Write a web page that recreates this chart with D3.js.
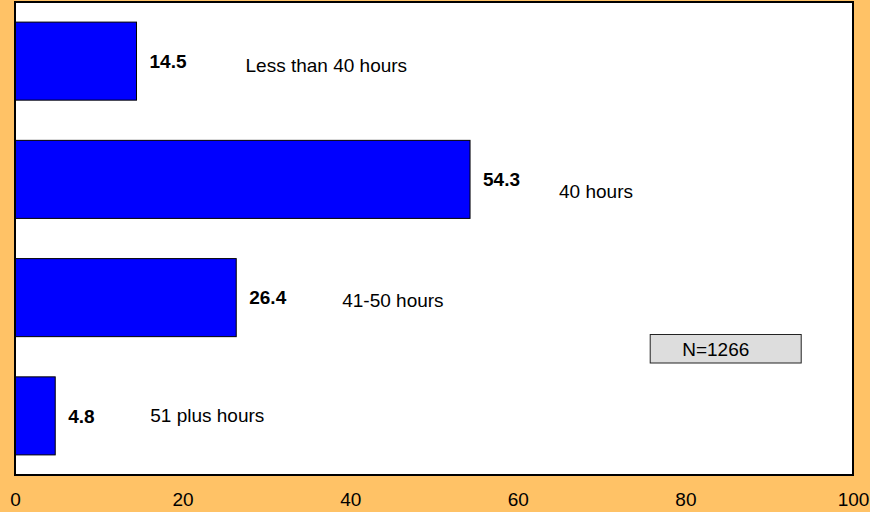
<!DOCTYPE html>
<html>
<head>
<meta charset="utf-8">
<script src="https://cdn.jsdelivr.net/npm/d3@7"></script>
<style>
  html, body { margin: 0; padding: 0; background: #FFC266; }
  svg { display: block; }
  text { font-family: "Liberation Sans", Arial, sans-serif; fill: #000; }
</style>
</head>
<body>
<svg id="chart" width="870" height="512"></svg>
<script>
// Weekly working hours, percentage of respondents
const categories = ["Less than 40 hours", "40 hours", "41-50 hours", "51 plus hours"];
const percents = [14.5, 54.3, 26.4, 4.8];
const tickValues = [0, 20, 40, 60, 80, 100];
const sampleNote = "N=1266";

const W = 870, H = 512;
const plot = { left: 15, right: 853, top: 2, bottom: 475 };

// Label nudges for the category names, relative to each bar's end and centre
const nameOffset = [[109, 11], [89, 19], [106, 9], [95, 6]];

const svg = d3.select("#chart");

svg.append("rect")
  .attr("width", W).attr("height", H)
  .attr("fill", "#FFC266");

const x = d3.scaleLinear().domain([0, 100]).range([plot.left, plot.right]);
const y = d3.scaleBand()
  .domain(categories)
  .range([plot.top, plot.bottom])
  .paddingInner(0.34)
  .paddingOuter(0.17);

// plot area
svg.append("rect")
  .attr("x", plot.left).attr("y", plot.top)
  .attr("width", plot.right - plot.left)
  .attr("height", plot.bottom - plot.top)
  .attr("fill", "#fff");

const rows = categories.map((c, i) => ({ name: c, value: percents[i], i }));

svg.append("g").selectAll("rect")
  .data(rows)
  .join("rect")
  .attr("x", x(0))
  .attr("y", d => y(d.name))
  .attr("width", d => x(d.value) - x(0))
  .attr("height", y.bandwidth())
  .attr("fill", "#0000FF")
  .attr("stroke", "#000")
  .attr("stroke-width", 1);

// value labels
svg.append("g").selectAll("text")
  .data(rows)
  .join("text")
  .attr("x", d => x(d.value) + 13)
  .attr("y", d => y(d.name) + y.bandwidth() / 2)
  .attr("dy", "0.36em")
  .style("font-size", "19px")
  .style("font-weight", "bold")
  .text(d => d.value.toFixed(1));

// category names
svg.append("g").selectAll("text")
  .data(rows)
  .join("text")
  .attr("x", d => x(d.value) + nameOffset[d.i][0])
  .attr("y", d => y(d.name) + y.bandwidth() / 2 + nameOffset[d.i][1])
  .style("font-size", "19px")
  .text(d => d.name);

// frame
svg.append("rect")
  .attr("x", plot.left).attr("y", plot.top)
  .attr("width", plot.right - plot.left)
  .attr("height", plot.bottom - plot.top)
  .attr("fill", "none")
  .attr("stroke", "#000")
  .attr("stroke-width", 2);

// sample size box
const note = svg.append("g").attr("transform", `translate(${x(75.8)},334.5)`);
note.append("rect")
  .attr("width", 151).attr("height", 28.5)
  .attr("fill", "#DDDDDD")
  .attr("stroke", "#222")
  .attr("stroke-width", 1);
note.append("text")
  .attr("x", 32).attr("y", 14.25)
  .attr("dy", "0.36em")
  .style("font-size", "19px")
  .text(sampleNote);

// value axis
const axis = svg.append("g")
  .attr("transform", `translate(0,${plot.bottom})`)
  .call(d3.axisBottom(x).tickValues(tickValues).tickSize(0).tickPadding(17.5).tickFormat(d3.format("d")));
axis.select(".domain").remove();
axis.selectAll("text")
  .style("font-size", "19px")
  .style("font-family", "'Liberation Sans', Arial, sans-serif")
  .attr("fill", "#000");
</script>
</body>
</html>
